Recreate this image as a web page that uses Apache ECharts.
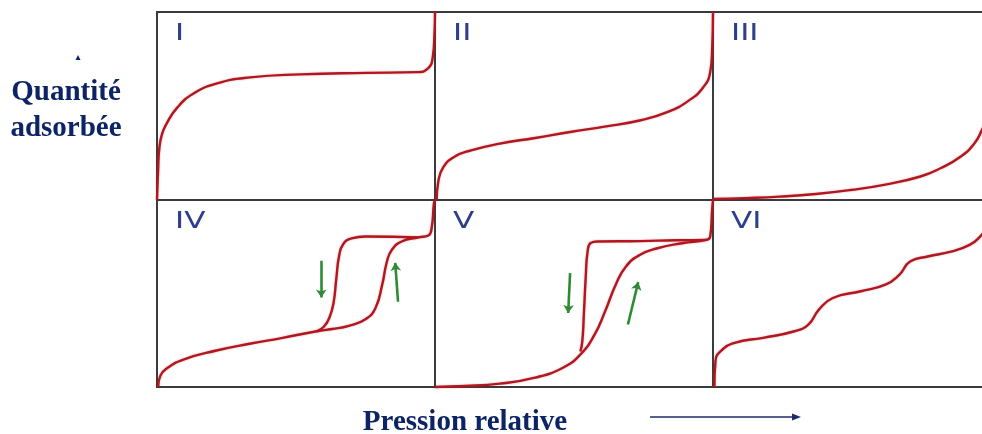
<!DOCTYPE html>
<html>
<head>
<meta charset="utf-8">
<script src="https://cdn.jsdelivr.net/npm/echarts@6/dist/echarts.min.js"></script>
<style>
  html, body { margin: 0; padding: 0; background: #ffffff; }
  #chart { width: 982px; height: 434px; }
</style>
</head>
<body>
<div id="chart"></div>
<script>
// IUPAC adsorption isotherm types: relative pressure (0..1) vs. adsorbed amount (0..1)
const panelLabels = ['I', 'II', 'III', 'IV', 'V', 'VI'];

const typeI = [[0, 0], [0.004, 0.16], [0.008, 0.27], [0.018, 0.35], [0.036, 0.41], [0.072, 0.49],
  [0.13, 0.565], [0.216, 0.62], [0.335, 0.652], [0.514, 0.668], [0.755, 0.676], [0.935, 0.68],
  [0.975, 0.70], [0.992, 0.76], [0.998, 0.88], [1.0, 1.0]];

const typeII = [[0.006, 0], [0.012, 0.10], [0.03, 0.175], [0.07, 0.23], [0.13, 0.264], [0.233, 0.30],
  [0.36, 0.33], [0.486, 0.362], [0.61, 0.39], [0.74, 0.424], [0.84, 0.47], [0.914, 0.53],
  [0.965, 0.60], [0.99, 0.68], [0.997, 0.80], [1.0, 1.0]];

const typeIII = [[0, 0.005], [0.116, 0.01], [0.24, 0.018], [0.37, 0.032], [0.494, 0.053], [0.62, 0.082],
  [0.746, 0.125], [0.82, 0.17], [0.89, 0.23], [0.94, 0.30], [0.97, 0.38], [1.0, 0.47]];

const typeIVads = [[0.004, 0], [0.012, 0.06], [0.036, 0.10], [0.095, 0.147], [0.214, 0.195], [0.333, 0.231],
  [0.452, 0.263], [0.575, 0.298], [0.63, 0.31], [0.69, 0.327], [0.75, 0.362], [0.786, 0.423],
  [0.81, 0.547], [0.827, 0.67], [0.845, 0.734], [0.88, 0.778], [0.94, 0.80], [0.976, 0.81],
  [0.988, 0.85], [0.996, 0.98], [1.0, 1.0]];
const typeIVdes = [[0.575, 0.298], [0.60, 0.322], [0.62, 0.37], [0.635, 0.45], [0.645, 0.58],
  [0.655, 0.70], [0.67, 0.765], [0.70, 0.795], [0.75, 0.805], [0.94, 0.80]];

const typeVads = [[0, 0], [0.107, 0.005], [0.233, 0.018], [0.36, 0.05], [0.46, 0.103], [0.523, 0.174],
  [0.574, 0.28], [0.612, 0.405], [0.65, 0.547], [0.687, 0.645], [0.738, 0.707], [0.80, 0.742],
  [0.889, 0.769], [0.977, 0.787], [0.99, 0.805], [0.997, 0.95], [1.0, 1.0]];
const typeVdes = [[0.523, 0.19], [0.53, 0.245], [0.536, 0.405], [0.542, 0.583], [0.549, 0.725],
  [0.56, 0.77], [0.586, 0.778], [0.738, 0.78], [0.864, 0.785], [0.977, 0.787]];

const typeVI = [[0.005, 0], [0.009, 0.139], [0.028, 0.192], [0.078, 0.236], [0.18, 0.263], [0.293, 0.298],
  [0.343, 0.334], [0.381, 0.414], [0.431, 0.476], [0.532, 0.512], [0.62, 0.547], [0.67, 0.60],
  [0.709, 0.671], [0.772, 0.698], [0.86, 0.725], [0.923, 0.76], [0.958, 0.80], [1.0, 0.88]];

// Hysteresis direction arrows (desorption down, adsorption up), in data units
const arrowsIV = [[[0.591, 0.675], [0.591, 0.478]], [[0.867, 0.456], [0.857, 0.664]]];
const arrowsV = [[[0.486, 0.609], [0.479, 0.396]], [[0.694, 0.334], [0.731, 0.561]]];

const curvesByPanel = [
  [typeI], [typeII], [typeIII],
  [typeIVads, typeIVdes], [typeVads, typeVdes], [typeVI]
];
const arrowsByPanel = [null, null, null, arrowsIV, arrowsV, null];

const colLeft = [157, 435, 713];
const colWidth = 278;
const rowTop = [12, 200];
const rowHeight = [188, 187];

const curveColor = '#b3161e';
const arrowColor = '#2e8b34';
const labelColor = '#2d3f8c';
const titleColor = '#0c2466';

const grids = [], xAxes = [], yAxes = [], series = [], graphics = [];

for (let p = 0; p < 6; p++) {
  const r = Math.floor(p / 3), c = p % 3;
  grids.push({
    left: colLeft[c], top: rowTop[r], width: colWidth, height: rowHeight[r],
    outerBoundsMode: 'none', containLabel: false,
    show: true, borderColor: '#3b3b3b', borderWidth: 2, backgroundColor: 'transparent'
  });
  xAxes.push({ type: 'value', gridIndex: p, min: 0, max: 1, show: false });
  yAxes.push({ type: 'value', gridIndex: p, min: 0, max: 1, show: false });

  curvesByPanel[p].forEach(curve => {
    series.push({
      type: 'line', xAxisIndex: p, yAxisIndex: p, data: curve,
      smooth: 0.5, showSymbol: false, clip: false, silent: true,
      lineStyle: { color: curveColor, width: 2.4, shadowColor: 'rgba(170,20,30,0.35)', shadowBlur: 2 },
      z: 3
    });
  });

  if (arrowsByPanel[p]) {
    series.push({
      type: 'lines', coordinateSystem: 'cartesian2d', xAxisIndex: p, yAxisIndex: p,
      symbol: ['none', 'arrow'], symbolSize: 8, silent: true,
      lineStyle: { color: arrowColor, width: 2.6, opacity: 1 },
      data: arrowsByPanel[p].map(seg => ({ coords: seg })),
      z: 4
    });
  }

  graphics.push({
    type: 'text', x: colLeft[c] + 18, y: rowTop[r] + 11, scaleX: 1.35,
    style: { text: panelLabels[p], font: '23px "DejaVu Sans"', fill: labelColor,
             verticalAlign: 'top', align: 'left' },
    z: 10
  });
}

// Axis captions
const captionFont = 'bold 29px "Liberation Serif"';
graphics.push({
  type: 'text', x: 66, y: 93,
  style: { text: 'Quantité', font: captionFont, fill: titleColor, align: 'center', verticalAlign: 'middle' }
});
graphics.push({
  type: 'text', x: 66, y: 129,
  style: { text: 'adsorbée', font: captionFont, fill: titleColor, align: 'center', verticalAlign: 'middle' }
});
graphics.push({
  type: 'polygon', shape: { points: [[78, 55], [75.5, 60], [80.5, 60]] },
  style: { fill: titleColor }
});
graphics.push({
  type: 'text', x: 465, y: 423,
  style: { text: 'Pression relative', font: captionFont, fill: titleColor, align: 'center', verticalAlign: 'middle' }
});
graphics.push({
  type: 'line', shape: { x1: 650, y1: 417, x2: 794, y2: 417 },
  style: { stroke: '#1c2b6b', lineWidth: 1.6 }
});
graphics.push({
  type: 'polygon', shape: { points: [[801, 417], [792, 413.5], [792, 420.5]] },
  style: { fill: '#1c2b6b' }
});

const chart = echarts.init(document.getElementById('chart'), null, { renderer: 'canvas' });
chart.setOption({
  backgroundColor: '#ffffff',
  animation: false,
  grid: grids,
  xAxis: xAxes,
  yAxis: yAxes,
  series: series,
  graphic: graphics
});
</script>
</body>
</html>
